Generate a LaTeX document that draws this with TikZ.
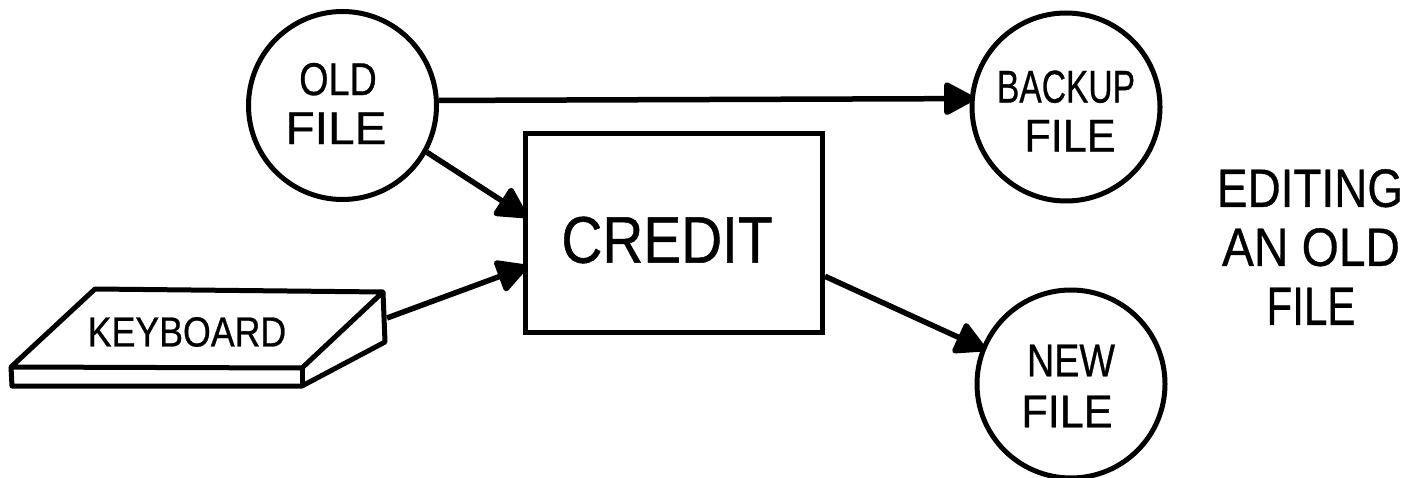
\documentclass[tikz,border=0pt]{standalone}
\usepackage{fontspec}
\usepackage{graphicx}
\setmainfont[FakeBold=0.7]{Liberation Sans}
\usetikzlibrary{arrows.meta}
\newcommand{\handline}[4]{\makebox[0pt]{\hspace*{#2}\raisebox{#3}[\height][\depth]{\scalebox{#1}[1]{#4}}}}
\tikzset{
 ink/.style={draw=black,line width=5pt,line join=round},
 filenode/.style={ink,circle,minimum size=188pt,inner sep=0pt,align=center,font=\fontsize{46}{49}\selectfont},
 conn/.style={line width=5.5pt,shorten >=-5pt,-{Triangle[length=34pt,width=35pt,round]}},
 lab/.style={align=center,inner sep=0pt,font=\fontsize{54}{59}\selectfont}
}
\begin{document}
\begin{tikzpicture}[x=1pt,y=-1pt]
\useasboundingbox (0,0) rectangle (1424,478);
\fill[white] (0,0) rectangle (1424,478);
\node[filenode] (old) at (342.5,105.5) {\handline{.82}{-9pt}{2pt}{OLD}\\\handline{1.04}{-13pt}{2pt}{FILE}};
\node[filenode] (backup) at (1066,107) {\handline{.73}{0pt}{-4pt}{BACKUP}\\\handline{.94}{8pt}{-4pt}{FILE}};
\node[filenode] (new) at (1071,384) {\handline{.82}{0pt}{-1pt}{NEW}\\\handline{.94}{-8pt}{-3pt}{FILE}};
\node[draw=black,line width=5pt,minimum width=297pt,minimum height=199pt,inner sep=0pt,font=\fontsize{66}{70}\selectfont] (credit) at (674,233) {\handline{.86}{-14pt}{-7pt}{CREDIT}};
\coordinate (kt1) at (95,289);
\coordinate (kt2) at (383,292);
\coordinate (kb1) at (11,367);
\coordinate (kb2) at (302,368);
\coordinate (kc1) at (12,386);
\coordinate (kc2) at (302,386);
\coordinate (kc3) at (385,342);
\draw[ink] (kb1)--(kt1)--(kt2)--(kb2)--cycle;
\draw[ink] (kb1)--(kc1)--(kc2)--(kc3)--(kt2);
\draw[ink] (kb2)--(kc2);
\node[inner sep=0pt,font=\fontsize{42}{46}\selectfont] (kbd) at (187,332) {\handline{.85}{0pt}{0pt}{KEYBOARD}};
\coordinate (kout) at (387,318);
\draw[conn] (old.3.9)--(backup.175);
\draw[conn] (old.-29)--(credit.173.8);
\draw[conn] (kout)--(credit.193);
\draw[conn] (credit.-16.2)--(new.158);
\node[lab] (title) at (1311,247) {\handline{.85}{-2pt}{0pt}{EDITING}\\\handline{.885}{0pt}{0pt}{AN OLD}\\\handline{.78}{0pt}{0pt}{FILE}};
\end{tikzpicture}
\end{document}
